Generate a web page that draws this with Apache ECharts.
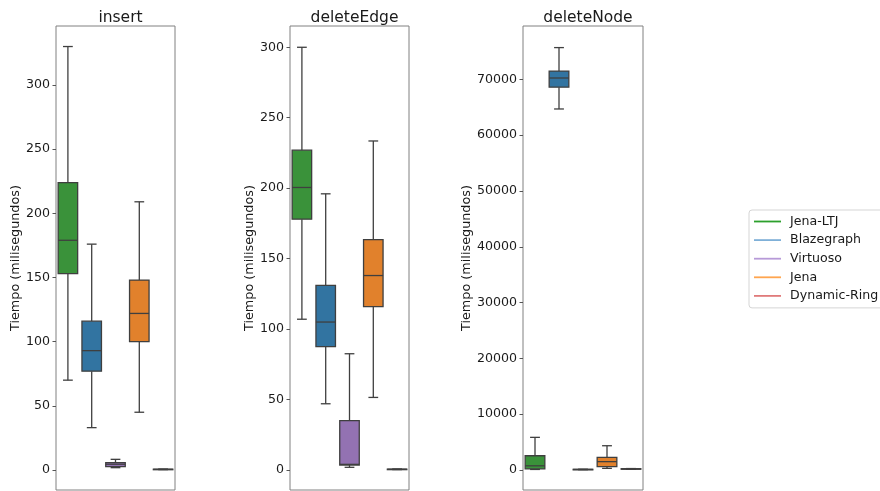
<!DOCTYPE html>
<html>
<head>
<meta charset="utf-8">
<script src="https://cdn.jsdelivr.net/npm/echarts@6/dist/echarts.min.js"></script>
<style>
html,body{margin:0;padding:0;background:#fff;}
#chart{width:880px;height:491px;}
</style>
</head>
<body>
<div id="chart"></div>
<script>
// ---- data ----
const categories = ['Jena-LTJ', 'Blazegraph', 'Virtuoso', 'Jena', 'Dynamic-Ring'];
const panelTitles = ['insert', 'deleteEdge', 'deleteNode'];
const yAxisName = 'Tiempo (milisegundos)';
// each box: [lower whisker, Q1, median, Q3, upper whisker]
const insertBoxes = [
  [70, 153, 179, 224, 330],
  [33, 77, 93, 116, 176],
  [1.8, 2.6, 4.5, 5.7, 8.3],
  [45, 100, 122, 148, 209],
  [0.3, 0.4, 0.5, 0.6, 0.7]
];
const deleteEdgeBoxes = [
  [107, 178, 200.5, 227, 300],
  [47, 87.5, 105, 131, 196],
  [1.9, 3.5, 4, 35, 82.5],
  [51.5, 116, 138, 163.5, 233.5],
  [0.3, 0.4, 0.5, 0.6, 0.7]
];
const deleteNodeBoxes = [
  [100, 200, 750, 2550, 5850],
  [64700, 68600, 70250, 71500, 75700],
  [60, 80, 100, 120, 140],
  [300, 600, 1500, 2250, 4350],
  [150, 180, 200, 230, 260]
];
const insertTicks = [0, 50, 100, 150, 200, 250, 300];
const deleteEdgeTicks = [0, 50, 100, 150, 200, 250, 300];
const deleteNodeTicks = [0, 10000, 20000, 30000, 40000, 50000, 60000, 70000];

// ---- styling ----
const boxColors = ['#3a923a', '#3274a1', '#9372b2', '#e1812c', '#c03d3e'];
const legendColors = ['#2ca02c', '#7fb0d8', '#b79ad8', '#ffa54f', '#e07a7a'];
const EDGE = '#3f3f3f';
const FONT = 'DejaVu Sans';
const panels = [
  { boxes: insertBoxes, ticks: insertTicks, min: -15.6, max: 346, left: 56, width: 119, nameGap: 33 },
  { boxes: deleteEdgeBoxes, ticks: deleteEdgeTicks, min: -14.2, max: 315.1, left: 290, width: 119, nameGap: 34 },
  { boxes: deleteNodeBoxes, ticks: deleteNodeTicks, min: -3584, max: 79570, left: 523, width: 120, nameGap: 49 }
];

function renderBox(params, api) {
  const cat = api.value(0);
  const lo = api.value(1), q1 = api.value(2), med = api.value(3), q3 = api.value(4), hi = api.value(5);
  const color = boxColors[cat];
  const band = api.size([1, 0])[0];
  const w = band * 0.82;
  const cx = api.coord([cat, 0])[0];
  const yLo = api.coord([cat, lo])[1], yQ1 = api.coord([cat, q1])[1], yMed = api.coord([cat, med])[1];
  const yQ3 = api.coord([cat, q3])[1], yHi = api.coord([cat, hi])[1];
  const ls = { stroke: EDGE, lineWidth: 1.3 };
  const capHalf = w / 4;
  return {
    type: 'group',
    children: [
      { type: 'line', shape: { x1: cx, y1: yQ1, x2: cx, y2: yLo }, style: ls },
      { type: 'line', shape: { x1: cx, y1: yQ3, x2: cx, y2: yHi }, style: ls },
      { type: 'line', shape: { x1: cx - capHalf, y1: yLo, x2: cx + capHalf, y2: yLo }, style: ls },
      { type: 'line', shape: { x1: cx - capHalf, y1: yHi, x2: cx + capHalf, y2: yHi }, style: ls },
      { type: 'rect', shape: { x: cx - w / 2, y: yQ3, width: w, height: Math.max(yQ1 - yQ3, 0.5) },
        style: { fill: color, stroke: EDGE, lineWidth: 1.3 } },
      { type: 'line', shape: { x1: cx - w / 2, y1: yMed, x2: cx + w / 2, y2: yMed }, style: ls }
    ]
  };
}

const grids = [], xAxes = [], yAxes = [], series = [], titles = [];
panels.forEach((p, i) => {
  grids.push({ left: p.left, width: p.width, top: 26, height: 464, show: true,
    borderColor: '#808080', borderWidth: 1, backgroundColor: 'transparent', containLabel: false });
  titles.push({ text: panelTitles[i], left: p.left + p.width / 2, top: 5, textAlign: 'center',
    textStyle: { fontFamily: FONT, fontSize: 15.5, fontWeight: 'normal', color: '#1a1a1a' } });
  xAxes.push({ type: 'category', gridIndex: i, data: categories, boundaryGap: true,
    axisLine: { show: false }, axisTick: { show: false }, axisLabel: { show: false }, splitLine: { show: false } });
  yAxes.push({ type: 'value', gridIndex: i, min: p.min, max: p.max,
    name: yAxisName, nameLocation: 'middle', nameGap: p.nameGap, nameRotate: 90,
    nameTextStyle: { fontFamily: FONT, fontSize: 12.8, color: '#1a1a1a' },
    axisLine: { show: false },
    axisTick: { show: true, length: 3.5, customValues: p.ticks, lineStyle: { color: '#555', width: 1 } },
    axisLabel: { show: true, customValues: p.ticks, margin: 6, fontFamily: FONT, fontSize: 12.6, color: '#1a1a1a',
      formatter: v => String(v) },
    splitLine: { show: false } });
  series.push({
    type: 'custom', xAxisIndex: i, yAxisIndex: i, silent: true,
    renderItem: renderBox,
    encode: { x: 0, y: [1, 2, 3, 4, 5] },
    data: p.boxes.map((b, k) => [k].concat(b))
  });
});
// legend-only line series
categories.forEach((c, k) => {
  series.push({ type: 'line', name: c, xAxisIndex: 0, yAxisIndex: 0, data: [],
    color: legendColors[k], lineStyle: { color: legendColors[k] } });
});

const chart = echarts.init(document.getElementById('chart'), null, { renderer: 'canvas' });
chart.setOption({
  animation: false,
  backgroundColor: '#ffffff',
  title: titles,
  grid: grids,
  xAxis: xAxes,
  yAxis: yAxes,
  legend: {
    orient: 'vertical', left: 749, top: 210,
    data: categories.map((c, k) => ({ name: c, icon: 'rect', itemStyle: { color: legendColors[k] } })),
    itemWidth: 27, itemHeight: 1.8, itemGap: 4.6,
    textStyle: { fontFamily: FONT, fontSize: 12.6, color: '#1a1a1a', lineHeight: 14, padding: [0, 0, 0, 4] },
    borderColor: '#d5d5d5', borderWidth: 1, borderRadius: 3,
    padding: [4.5, 8, 5, 5], backgroundColor: '#fff', selectedMode: false
  },
  series: series
});
</script>
</body>
</html>
